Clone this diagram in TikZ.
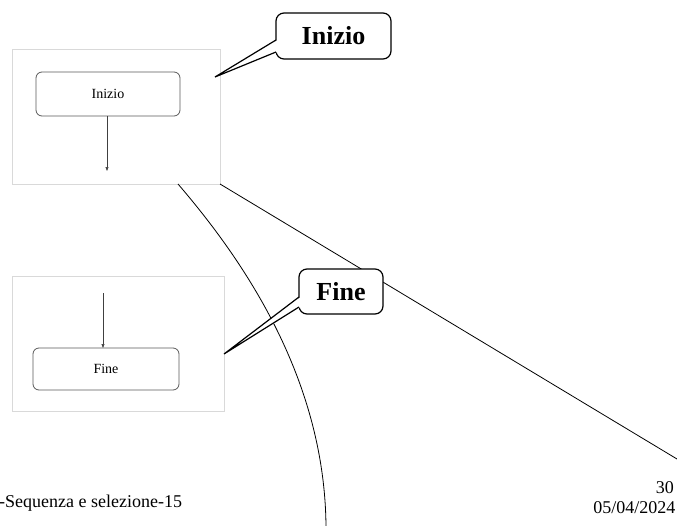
\documentclass[tikz,border=0pt]{standalone}
\usepackage{fontspec}
\setmainfont{Liberation Serif}
\usetikzlibrary{arrows.meta,calc}
\begin{document}
\begin{tikzpicture}[x=1pt,y=-1pt,
  frame/.style={draw=black!15, line width=0.8pt, inner sep=0pt, outer sep=0pt},
  stepbox/.style={draw=black!65, rounded corners=6pt, line width=0.8pt, inner sep=0pt, outer sep=0pt, font=\fontsize{14}{16}\selectfont},
  flow/.style={draw=black!75, line width=0.6pt, -{Triangle[length=4pt,width=3pt]}},
  callbox/.style={draw=black, fill=white, rounded corners=8pt, line width=1.2pt, inner sep=0pt, outer sep=0pt, font=\bfseries\fontsize{26}{30}\selectfont},
  pointer/.style={draw=black, fill=white, line width=1.2pt, line join=miter},
  link/.style={draw=black, line width=0.8pt},
  foot/.style={inner sep=0pt, font=\fontsize{18}{20}\selectfont}
]
\useasboundingbox (0,0) rectangle (677,525);

% frames
\node[frame, minimum width=208pt, minimum height=135pt] (f1) at (116,116.5) {};
\node[frame, minimum width=212pt, minimum height=135pt] (f2) at (118,343.5) {};

% inner boxes
\node[stepbox, minimum width=144pt, minimum height=44pt] (s1) at (108,94) {Inizio};
\node[stepbox, minimum width=146pt, minimum height=42pt] (s2) at (106,369) {Fine};

\coordinate (a1) at (107,171);
\coordinate (a2) at (103,293);
\draw[flow] (s1.south -| a1) -- (a1);
\draw[flow] (a2) -- (a2 |- s2.north);

% long connectors
\coordinate (cstart) at (178,184);
\coordinate (cend) at (326,527);
\coordinate (dend) at (677,459);
\draw[link] (f1.south east) -- (dend);
\draw[link] (cstart) .. controls (245,262) and (325,380) .. (cend);

% callouts
\coordinate (t1) at (215,77);
\coordinate (t2) at (224,354);
\node[callbox, minimum width=115pt, minimum height=46pt] (c1) at (333.5,36) {Inizio};
\node[callbox, minimum width=84pt, minimum height=45pt] (c2) at (341,291.5) {Fine};
\fill[white] ($(c1.west)+(1.5,4)$) -- (t1) -- ($(c1.west)+(1.5,16)$) -- cycle;
\draw[pointer, fill=none] ($(c1.west)+(0,4)$) -- (t1) -- ($(c1.west)+(0,16)$);
\fill[white] ($(c2.west)+(1.5,5.5)$) -- (t2) -- ($(c2.west)+(1.5,15.5)$) -- cycle;
\draw[pointer, fill=none] ($(c2.west)+(0,5.5)$) -- (t2) -- ($(c2.west)+(0,15.5)$);

% footer
\node[foot, anchor=base west] (ft) at (-1,507) {-Sequenza e selezione-15};
\node[foot, anchor=base east] (pg) at (674,493) {30};
\node[foot, anchor=base east] (dt) at (675.5,513) {05/04/2024};
\end{tikzpicture}
\end{document}
